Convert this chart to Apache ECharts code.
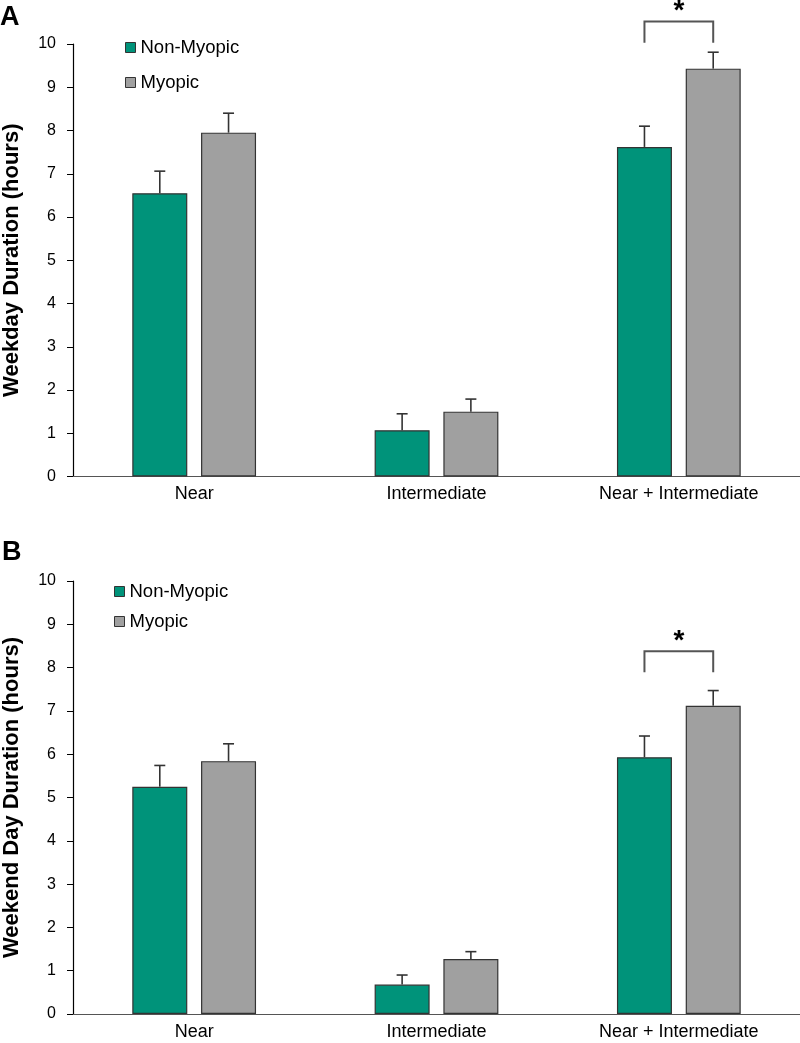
<!DOCTYPE html>
<html>
<head>
<meta charset="utf-8">
<script src="https://cdn.jsdelivr.net/npm/echarts@6/dist/echarts.min.js"></script>
<style>
html,body{margin:0;padding:0;background:#fff;}
#chart{width:800px;height:1043px;}
</style>
</head>
<body>
<div id="chart"></div>
<script>
// ---- data ----
var categories = ['Near', 'Intermediate', 'Near + Intermediate'];
var yTicks = [0, 10, 1]; // min, max, interval
var weekdayNonMyopic = [6.55, 1.07, 7.62];
var weekdayNonMyopicSE = [0.51, 0.38, 0.48];
var weekdayMyopic = [7.95, 1.50, 9.43];
var weekdayMyopicSE = [0.45, 0.29, 0.38];
var weekendNonMyopic = [5.25, 0.68, 5.93];
var weekendNonMyopicSE = [0.49, 0.22, 0.49];
var weekendMyopic = [5.84, 1.27, 7.12];
var weekendMyopicSE = [0.40, 0.17, 0.35];
// significance brackets: [category index, bracket top, leg bottom]
var weekdaySig = [2, 10.52, 10.03];
var weekendSig = [2, 8.38, 7.89];

// ---- styling ----
var FONT = "'Liberation Sans', Arial, sans-serif";
var GREEN = '#00937A', GRAY = '#A0A0A0', EDGE = '#333333';
var BAR_W = 55, GAP = 0.25;
var OFFSET = (BAR_W + BAR_W * GAP) / 2;
var CAP = 11;

function errData(vals, se) {
  return vals.map(function (v, i) { return [i, v, v + se[i]]; });
}
function errRender(sign) {
  return function (params, api) {
    var c = api.value(0);
    var p0 = api.coord([c, api.value(1)]);
    var p1 = api.coord([c, api.value(2)]);
    var x = p0[0] + sign * OFFSET;
    var st = { stroke: EDGE, lineWidth: 1.6 };
    return { type: 'group', children: [
      { type: 'line', shape: { x1: x, y1: p0[1], x2: x, y2: p1[1] }, style: st },
      { type: 'line', shape: { x1: x - CAP / 2, y1: p1[1], x2: x + CAP / 2, y2: p1[1] }, style: st }
    ] };
  };
}
function sigRender(params, api) {
  var c = api.value(0);
  var top = api.coord([c, api.value(1)]);
  var bot = api.coord([c, api.value(2)]);
  var xl = top[0] - OFFSET, xr = top[0] + OFFSET;
  return { type: 'group', children: [
    { type: 'polyline', shape: { points: [[xl, bot[1]], [xl, top[1]], [xr, top[1]], [xr, bot[1]]] },
      style: { stroke: '#555', lineWidth: 2, fill: null } },
    { type: 'text', style: { text: '*', x: top[0], y: top[1] + 4, align: 'center', verticalAlign: 'bottom',
      font: 'bold 28px ' + FONT, fill: '#000' } }
  ] };
}

function xAxis(idx) {
  return {
    type: 'category', gridIndex: idx, data: categories,
    axisLine: { lineStyle: { color: '#555', width: 1.2 } },
    axisTick: { show: false },
    axisLabel: { color: '#000', fontSize: 18, fontFamily: FONT, margin: 9 }
  };
}
function yAxis(idx, name) {
  return {
    type: 'value', gridIndex: idx, min: yTicks[0], max: yTicks[1], interval: yTicks[2],
    splitLine: { show: false },
    axisLine: { show: true, lineStyle: { color: '#000', width: 1.2 } },
    axisTick: { show: true, length: 6, inside: false, lineStyle: { color: '#000' } },
    axisLabel: { color: '#000', fontSize: 16, fontFamily: FONT, margin: 17 },
    name: name, nameLocation: 'middle', nameGap: 50,
    nameTextStyle: { color: '#000', fontSize: 22, fontWeight: 'bold', fontFamily: FONT }
  };
}
function bar(name, data, color, idx) {
  return {
    name: name, type: 'bar', xAxisIndex: idx, yAxisIndex: idx, data: data,
    barWidth: BAR_W, barGap: (GAP * 100) + '%',
    itemStyle: { color: color, borderColor: EDGE, borderWidth: 1.2 },
    silent: true, z: 2
  };
}
function err(data, sign, idx) {
  return { type: 'custom', xAxisIndex: idx, yAxisIndex: idx, data: data,
    renderItem: errRender(sign), z: 3, silent: true };
}

var chart = echarts.init(document.getElementById('chart'), null, { renderer: 'canvas' });
chart.setOption({
  animation: false,
  backgroundColor: '#fff',
  textStyle: { fontFamily: FONT },
  grid: [
    { left: 73, top: 44, width: 727, height: 432.5, containLabel: false, outerBoundsMode: 'none' },
    { left: 73, top: 581, width: 727, height: 433, containLabel: false, outerBoundsMode: 'none' }
  ],
  xAxis: [xAxis(0), xAxis(1)],
  yAxis: [yAxis(0, 'Weekday Duration (hours)'), yAxis(1, 'Weekend Day Duration (hours)')],
  legend: [
    { data: ['Non-Myopic', 'Myopic'], orient: 'vertical', left: 125, top: 38, padding: 0, itemWidth: 10, itemHeight: 10,
      itemGap: 16, icon: 'rect', textStyle: { fontSize: 18.5, color: '#000', fontFamily: FONT }, selectedMode: false,
      itemStyle: { borderColor: EDGE, borderWidth: 1 } },
    { data: ['Non-Myopic', 'Myopic'], orient: 'vertical', left: 114, top: 582, padding: 0, itemWidth: 10, itemHeight: 10,
      itemGap: 11, icon: 'rect', textStyle: { fontSize: 18.5, color: '#000', fontFamily: FONT }, selectedMode: false,
      itemStyle: { borderColor: EDGE, borderWidth: 1 } }
  ],
  graphic: [
    { type: 'text', left: 0, top: 4, style: { text: 'A', font: 'bold 27px ' + FONT, fill: '#000' } },
    { type: 'text', left: 2, top: 539, style: { text: 'B', font: 'bold 27px ' + FONT, fill: '#000' } }
  ],
  series: [
    bar('Non-Myopic', weekdayNonMyopic, GREEN, 0),
    bar('Myopic', weekdayMyopic, GRAY, 0),
    err(errData(weekdayNonMyopic, weekdayNonMyopicSE), -1, 0),
    err(errData(weekdayMyopic, weekdayMyopicSE), 1, 0),
    { type: 'custom', xAxisIndex: 0, yAxisIndex: 0, data: [weekdaySig], renderItem: sigRender, clip: false, z: 4, silent: true },
    bar('Non-Myopic', weekendNonMyopic, GREEN, 1),
    bar('Myopic', weekendMyopic, GRAY, 1),
    err(errData(weekendNonMyopic, weekendNonMyopicSE), -1, 1),
    err(errData(weekendMyopic, weekendMyopicSE), 1, 1),
    { type: 'custom', xAxisIndex: 1, yAxisIndex: 1, data: [weekendSig], renderItem: sigRender, clip: false, z: 4, silent: true }
  ]
});
</script>
</body>
</html>
